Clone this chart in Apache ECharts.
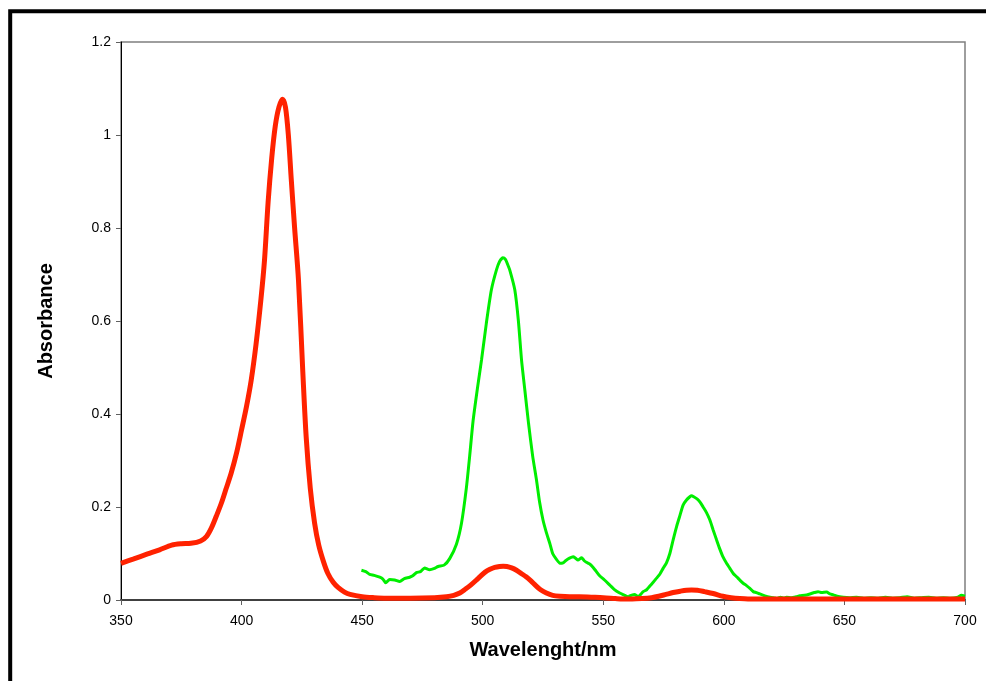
<!DOCTYPE html>
<html>
<head>
<meta charset="utf-8">
<script src="https://cdn.jsdelivr.net/npm/echarts@6/dist/echarts.min.js"></script>
<style>
  html, body { margin: 0; padding: 0; background: #ffffff; }
  #chart { width: 986px; height: 681px; }
</style>
</head>
<body>
<div id="chart"></div>
<script>
// Absorption spectra: wavelength (nm) and absorbance for the two samples
const redWavelengths = [350,355,361,366,371,375,379,383,385.5,387.5,389.5,391.6,393.5,395.7,398,400,402,404,406,408,409.5,411,412.5,414,415.5,417,418.2,419.4,420.6,422,423.6,425.4,426.8,428.5,430.3,432,434,435.8,438,440,442.7,445,450,455,460,470,480,485,488,490.5,493,495,497.4,499,501,503,505,507,508.5,510,512,514,516,518,520,522,524,526.4,529,532,536,540,545,550,555,558,562,566,570,573,576,579,582,584.5,586.6,589,592,595.6,599.6,603,606.6,610,620,630,640,650,660,670,680,690,700];
const redAbsorbance = [0.079,0.088,0.099,0.108,0.118,0.121,0.122,0.127,0.137,0.155,0.18,0.208,0.238,0.273,0.318,0.366,0.415,0.473,0.55,0.645,0.73,0.855,0.95,1.02,1.06,1.077,1.06,1.0,0.905,0.8,0.688,0.49,0.35,0.24,0.165,0.118,0.082,0.057,0.038,0.027,0.017,0.012,0.007,0.005,0.004,0.004,0.005,0.007,0.01,0.015,0.024,0.032,0.043,0.051,0.06,0.066,0.07,0.072,0.0725,0.072,0.069,0.064,0.057,0.05,0.041,0.031,0.022,0.015,0.01,0.008,0.007,0.007,0.006,0.005,0.003,0.002,0.002,0.003,0.005,0.008,0.012,0.016,0.019,0.021,0.0215,0.021,0.018,0.014,0.008,0.005,0.003,0.002,0.002,0.002,0.002,0.002,0.002,0.002,0.002,0.002,0.002];

const greenWavelengths = [449.7,451.5,453.1,455,457.3,458.6,459.8,461.4,463.5,465.6,467.5,469.7,471,472.5,474.2,475.9,478,480,481.5,484,486.3,489.1,491.2,493.2,494.6,496,497.8,499.5,501.5,503.6,505.7,507,508.4,509.5,510.3,511.2,513.3,514.8,516.1,517.5,519,520.7,522.3,523.6,525,526.4,527.8,529,530.5,532,533.3,534.5,536,537.5,538.5,539.5,541,542,543,544.5,545.8,547,548.5,550.5,552.7,554.5,556.8,558.5,560.3,561.5,563.1,564.4,565.5,566.5,568,569.3,570.7,572.1,573.5,574.8,576.2,577.6,579,580.4,581.8,583.1,584.5,585.9,586.6,587.5,589,590.2,591.4,592.8,594.2,595.6,597,598.3,599.7,601,602.5,603.9,605.3,606.6,608,609.4,610.8,612.2,613.5,614.9,617,619.1,620.5,621.9,623.5,625,626,628,630,631.5,633.5,635.7,637.5,639.1,640.5,642.6,644,645.4,647,649.5,652,655,658,661,664,667,670,673,676,679,682,685,688,691,694,697,698.5,700];
const greenAbsorbance = [0.064,0.061,0.055,0.053,0.049,0.045,0.037,0.044,0.043,0.040,0.046,0.049,0.052,0.059,0.061,0.069,0.065,0.068,0.072,0.075,0.089,0.12,0.165,0.24,0.31,0.385,0.455,0.516,0.595,0.667,0.71,0.728,0.736,0.732,0.722,0.71,0.667,0.6,0.516,0.45,0.38,0.31,0.258,0.21,0.172,0.145,0.122,0.1,0.088,0.079,0.08,0.085,0.09,0.093,0.09,0.086,0.091,0.085,0.081,0.077,0.07,0.062,0.052,0.043,0.032,0.023,0.015,0.011,0.007,0.01,0.012,0.007,0.012,0.018,0.022,0.03,0.038,0.047,0.056,0.068,0.08,0.1,0.13,0.158,0.182,0.204,0.215,0.222,0.224,0.222,0.217,0.21,0.2,0.188,0.172,0.15,0.129,0.11,0.092,0.08,0.068,0.057,0.05,0.043,0.036,0.031,0.025,0.018,0.016,0.013,0.009,0.006,0.005,0.003,0.006,0.004,0.006,0.005,0.007,0.009,0.01,0.013,0.016,0.018,0.016,0.017,0.013,0.011,0.008,0.006,0.005,0.006,0.004,0.005,0.004,0.006,0.004,0.005,0.007,0.004,0.005,0.006,0.004,0.005,0.004,0.006,0.01,0.008];

const xTicks = [350, 700, 50];   // min, max, interval
const yTicks = [0, 1.2, 0.2];

const pairs = (xs, ys) => xs.map((x, i) => [x, ys[i]]);

const chart = echarts.init(document.getElementById('chart'), null, { renderer: 'canvas' });
const font = '"Liberation Sans", Arial, sans-serif';

chart.setOption({
  backgroundColor: '#ffffff',
  animation: false,
  graphic: [{
    type: 'rect',
    shape: { x: 10.2, y: 11.3, width: 1100, height: 800 },
    style: { fill: null, stroke: '#000000', lineWidth: 4 },
    z: 0
  }],
  grid: {
    left: 121, right: 21, top: 42, bottom: 81,
    show: true, borderColor: '#7f7f7f', borderWidth: 1.5, backgroundColor: 'transparent'
  },
  xAxis: {
    type: 'value',
    min: xTicks[0], max: xTicks[1], interval: xTicks[2],
    name: 'Wavelenght/nm', nameLocation: 'middle', nameGap: 40,
    nameTextStyle: { fontFamily: font, fontWeight: 'bold', fontSize: 20, color: '#000' },
    axisLine: { show: true, lineStyle: { color: '#404040', width: 2 } },
    axisTick: { show: true, length: 5, lineStyle: { color: '#606060', width: 1 } },
    axisLabel: { fontFamily: font, fontSize: 14, color: '#000', margin: 14 },
    splitLine: { show: false }
  },
  yAxis: {
    type: 'value',
    min: yTicks[0], max: yTicks[1], interval: yTicks[2],
    name: 'Absorbance', nameLocation: 'middle', nameGap: 65,
    nameTextStyle: { fontFamily: font, fontWeight: 'bold', fontSize: 20, color: '#000' },
    axisLine: { show: true, lineStyle: { color: '#000000', width: 1 } },
    axisTick: { show: true, length: 5, lineStyle: { color: '#606060', width: 1 } },
    axisLabel: {
      fontFamily: font, fontSize: 14, color: '#000', margin: 10,
      formatter: v => String(parseFloat(v.toFixed(2)))
    },
    splitLine: { show: false }
  },
  series: [
    {
      name: 'green', type: 'line', data: pairs(greenWavelengths, greenAbsorbance),
      showSymbol: false, smooth: 0.2,
      lineStyle: { color: '#00ee00', width: 3 }, z: 3
    },
    {
      name: 'red', type: 'line', data: pairs(redWavelengths, redAbsorbance),
      showSymbol: false, smooth: 0.3,
      lineStyle: { color: '#ff2200', width: 5 }, z: 4
    }
  ]
});
</script>
</body>
</html>
